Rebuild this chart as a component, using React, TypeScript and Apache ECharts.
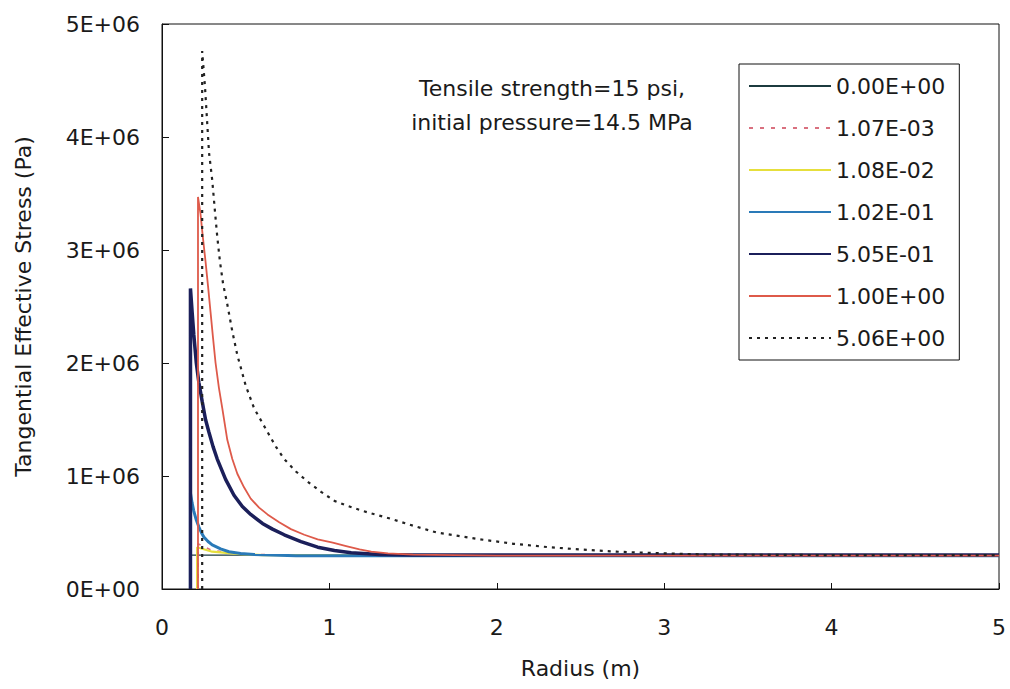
import React, { useEffect, useRef } from "react";
import * as echarts from "echarts";

const seriesNames = ["0.00E+00", "1.07E-03", "1.08E-02", "1.02E-01", "5.05E-01", "1.00E+00", "5.06E+00"];

const xTicks = [0, 1, 2, 3, 4, 5];
const yTickLabels = ["0E+00", "1E+06", "2E+06", "3E+06", "4E+06", "5E+06"];

const t0000: number[][] = [[0.17, 0], [0.17, 3.0e5], [5, 3.0e5]];
const t0001: number[][] = [[0.215, 0], [0.215, 4.0e5], [0.3, 3.4e5], [0.5, 3.1e5], [0.7, 3.0e5], [5, 3.0e5]];
const t0010: number[][] = [[0.21, 0], [0.21, 3.7e5], [0.3, 3.3e5], [0.45, 3.1e5], [0.6, 3.0e5], [5, 3.0e5]];
const t0102: number[][] = [
  [0.17, 0], [0.17, 8.5e5], [0.18, 7.6e5], [0.19, 6.9e5], [0.205, 6.1e5], [0.22, 5.5e5],
  [0.235, 5.0e5], [0.25, 4.6e5], [0.275, 4.2e5], [0.3, 3.9e5], [0.35, 3.55e5], [0.4, 3.3e5],
  [0.47, 3.15e5], [0.55, 3.05e5], [0.8, 2.95e5], [5, 2.95e5],
];
const t0505: number[][] = [
  [0.17, 0], [0.17, 2.66e6], [0.18, 2.45e6], [0.19, 2.25e6], [0.205, 2.0e6], [0.22, 1.83e6],
  [0.24, 1.66e6], [0.26, 1.5e6], [0.28, 1.39e6], [0.305, 1.26e6], [0.33, 1.15e6], [0.38, 9.7e5],
  [0.43, 8.3e5], [0.48, 7.3e5], [0.53, 6.6e5], [0.6, 5.8e5], [0.66, 5.3e5], [0.73, 4.8e5],
  [0.83, 4.2e5], [0.93, 3.7e5], [1.03, 3.4e5], [1.13, 3.2e5], [1.3, 3.05e5], [1.5, 3.0e5], [5, 3.0e5],
];
const t1000: number[][] = [
  [0.215, 0], [0.215, 3.47e6], [0.23, 3.32e6], [0.245, 3.1e6], [0.26, 2.9e6], [0.275, 2.68e6],
  [0.29, 2.45e6], [0.305, 2.22e6], [0.32, 2.0e6], [0.34, 1.78e6], [0.36, 1.6e6], [0.39, 1.32e6],
  [0.42, 1.15e6], [0.45, 1.02e6], [0.49, 9.0e5], [0.53, 8.0e5], [0.58, 7.2e5], [0.63, 6.6e5],
  [0.7, 5.9e5], [0.77, 5.3e5], [0.85, 4.8e5], [0.93, 4.4e5], [1.02, 4.1e5], [1.1, 3.8e5],
  [1.18, 3.5e5], [1.25, 3.3e5], [1.35, 3.15e5], [1.5, 3.05e5], [2, 2.95e5], [5, 2.95e5],
];
const t5060: number[][] = [
  [0.24, 0], [0.24, 4.76e6], [0.257, 4.44e6], [0.269, 4.15e6], [0.281, 3.86e6], [0.3, 3.62e6],
  [0.317, 3.33e6], [0.33, 3.12e6], [0.346, 2.9e6], [0.365, 2.7e6], [0.39, 2.52e6], [0.42, 2.28e6],
  [0.45, 2.07e6], [0.5, 1.8e6], [0.55, 1.6e6], [0.63, 1.39e6], [0.68, 1.26e6], [0.73, 1.15e6],
  [0.8, 1.04e6], [0.87, 9.5e5], [0.95, 8.6e5], [1.03, 7.8e5], [1.1, 7.4e5], [1.2, 6.9e5],
  [1.37, 6.2e5], [1.5, 5.6e5], [1.64, 5.0e5], [1.77, 4.7e5], [1.9, 4.4e5], [2.1, 4.0e5],
  [2.31, 3.7e5], [2.5, 3.5e5], [2.72, 3.3e5], [3.0, 3.15e5], [3.26, 3.05e5], [4, 3.0e5], [5, 3.0e5],
];

const seriesData = [t0000, t0001, t0010, t0102, t0505, t1000, t5060];
const seriesColors = ["#1c3b3f", "#d9707f", "#e6df3c", "#2a7ab8", "#1b1f5a", "#de5a4a", "#222222"];
const seriesWidths = [1.3, 1.6, 2.2, 3, 3.5, 1.8, 2.2];
const seriesTypes: any[] = ["solid", [4, 7], "solid", "solid", "solid", "solid", [3, 5]];

const FONT = "DejaVu Sans";

export default function App() {
  const ref = useRef<HTMLDivElement>(null);
  useEffect(() => {
    document.body.style.margin = "0";
    const chart = echarts.init(ref.current!, null, { renderer: "svg" });
    chart.setOption({
      animation: false,
      backgroundColor: "#ffffff",
      textStyle: { fontFamily: FONT, color: "#1a1a1a" },
      grid: {
        left: 162,
        right: 11,
        top: 24,
        bottom: 100,
        show: true,
        borderColor: "#111",
        borderWidth: 1,
        backgroundColor: "transparent",
      },
      xAxis: {
        type: "value",
        min: 0,
        max: 5,
        interval: 1,
        name: "Radius (m)",
        nameLocation: "middle",
        nameGap: 68,
        nameTextStyle: { fontFamily: FONT, fontSize: 22, color: "#1a1a1a" },
        axisLine: { show: true, onZero: false, lineStyle: { color: "#111", width: 1 } },
        axisTick: { show: true, inside: true, length: 6, lineStyle: { color: "#111" } },
        splitLine: { show: false },
        axisLabel: {
          margin: 27,
          fontFamily: FONT,
          fontSize: 22,
          color: "#1a1a1a",
          formatter: (v: number) => (xTicks.includes(v) ? String(v) : ""),
        },
      },
      yAxis: {
        type: "value",
        min: 0,
        max: 5e6,
        interval: 1e6,
        name: "Tangential Effective Stress (Pa)",
        nameLocation: "middle",
        nameGap: 128,
        nameRotate: 90,
        nameTextStyle: { fontFamily: FONT, fontSize: 22, color: "#1a1a1a" },
        axisLine: { show: true, onZero: false, lineStyle: { color: "#111", width: 1 } },
        axisTick: { show: true, inside: true, length: 7, lineStyle: { color: "#111" } },
        splitLine: { show: false },
        axisLabel: {
          margin: 22,
          fontFamily: FONT,
          fontSize: 22,
          color: "#1a1a1a",
          formatter: (v: number) => yTickLabels[Math.round(v / 1e6)] ?? "",
        },
      },
      legend: {
        orient: "vertical",
        left: 739,
        top: 64,
        padding: [11, 14, 11, 9],
        itemWidth: 82,
        itemHeight: 20,
        itemGap: 20,
        borderColor: "#111",
        borderWidth: 1,
        backgroundColor: "#fff",
        itemStyle: { opacity: 0 },
        textStyle: { fontFamily: FONT, fontSize: 22, color: "#1a1a1a" },
        data: seriesNames,
      },
      graphic: [
        {
          type: "text",
          x: 552,
          y: 88,
          style: {
            text: "Tensile strength=15 psi,",
            fontFamily: FONT,
            fontSize: 22,
            fill: "#1a1a1a",
            textAlign: "center",
            textVerticalAlign: "middle",
          },
        },
        {
          type: "text",
          x: 552,
          y: 122,
          style: {
            text: "initial pressure=14.5 MPa",
            fontFamily: FONT,
            fontSize: 22,
            fill: "#1a1a1a",
            textAlign: "center",
            textVerticalAlign: "middle",
          },
        },
      ],
      series: seriesNames.map((name, i) => ({
        name,
        type: "line",
        data: seriesData[i],
        symbol: "none",
        showSymbol: false,
        smooth: false,
        clip: true,
        color: seriesColors[i],
        lineStyle: { color: seriesColors[i], width: seriesWidths[i], type: seriesTypes[i] },
        z: 2 + i,
      })),
    });
    return () => chart.dispose();
  }, []);
  return <div ref={ref} style={{ width: 1010, height: 689 }} />;
}
